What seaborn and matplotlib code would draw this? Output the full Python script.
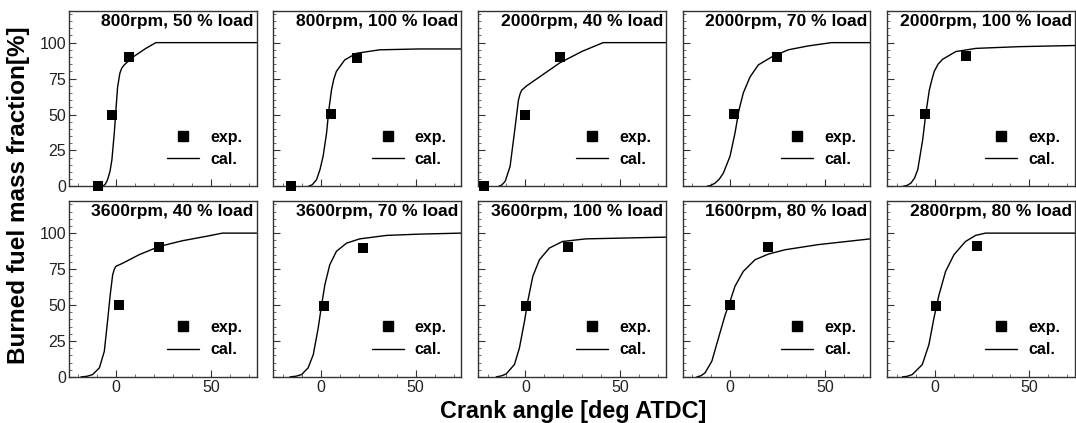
import numpy as np
import pandas as pd
import matplotlib
matplotlib.use("Agg")
import matplotlib.pyplot as plt
from matplotlib.ticker import MultipleLocator, FixedLocator
from matplotlib.lines import Line2D
import seaborn as sns

# ---------------- data ----------------
titles = ["800rpm, 50 % load", "800rpm, 100 % load", "2000rpm, 40 % load",
          "2000rpm, 70 % load", "2000rpm, 100 % load",
          "3600rpm, 40 % load", "3600rpm, 70 % load", "3600rpm, 100 % load",
          "1600rpm, 80 % load", "2800rpm, 80 % load"]

exp_x = [[-9.5, -2.3, 6.8], [-16.0, 5.3, 18.9], [-21.8, -0.2, 18.2],
         [2.3, 25.0], [-4.9, 16.5],
         [1.2, 22.3], [1.6, 22.3], [0.4, 22.6], [0.2, 20.2], [0.5, 22.5]]
exp_y = [[0, 50, 90], [0, 50.5, 89], [0, 49.8, 89.8],
         [50.2, 90], [50.2, 90.7],
         [49.8, 90.3], [49.5, 89.6], [49.5, 90.3], [50.2, 90], [49.5, 90.7]]

cal_x = [
    [-7.2, -5.8, -4.6, -3.3, -2.3, -1.05, -0.2, 0.7, 1.9, 2.9, 4.2, 8.6, 15.6, 20.9, 74],
    [-6.7, -4.5, -2.3, -0.5, 1.2, 3.0, 4.2, 5.6, 6.8, 8.2, 12.6, 18.8, 31, 52, 74],
    [-14.2, -12.5, -10.7, -8.1, -6.3, -5.4, -3.7, -2.8, -1.9, 0.7, 10, 18.2, 30, 41, 74],
    [-12.3, -10.0, -7.9, -5.7, -3.5, 0, 2.6, 4.7, 7, 10.5, 14.9, 21.9, 30.7, 41.2, 53.5, 74],
    [-16.8, -14.5, -12.5, -10.6, -8.9, -6.3, -4.6, -2.8, -1.4, -0.2, 1.8, 4.2, 11.2, 21.8, 44.6, 74],
    [-18.6, -15.5, -12.5, -8.9, -6.3, -4.6, -3.2, -1.9, -1.0, -0.2, 3.3, 12.1, 22.6, 34.9, 47.2, 56, 74],
    [-16.3, -13.0, -10.2, -6.7, -4, -1.4, 0.4, 2.1, 4.7, 8.2, 13.5, 20.5, 34.6, 52, 74],
    [-15.4, -12.8, -10.2, -5.8, -3.2, -0.5, 1.2, 3.9, 7.4, 12.6, 19.6, 31.9, 49.5, 74],
    [-17.5, -15.3, -13.2, -9.6, -6.1, -2.6, 0, 2.6, 7, 13.2, 20.2, 28.9, 46.5, 74],
    [-17, -14.5, -11.8, -6.5, -3, -0.35, 2.3, 5.8, 10.2, 16.3, 21.6, 26.8, 74],
]
cal_y = [
    [0, 1.5, 4.6, 10.5, 18.5, 37, 53, 69, 78.7, 82.3, 84.5, 89.8, 96, 100, 100],
    [0, 1.2, 4.6, 11.5, 21, 37, 53, 67, 74.5, 80, 88, 92.6, 95, 95.6, 95.6],
    [0, 1.0, 3.5, 13.9, 32.4, 41.7, 60, 64.5, 67, 70, 78.5, 86, 94, 100, 100],
    [0, 0.8, 2.3, 5.0, 9.3, 21, 37, 53, 65, 76, 84.5, 90, 95, 97.7, 100, 100],
    [0, 0.7, 2.3, 5.8, 11.6, 32.4, 51, 67, 74.5, 80, 85, 88.4, 93.8, 96, 97.2, 98],
    [0, 0.4, 1.6, 6.3, 17.8, 38.7, 57, 71, 75, 76.9, 79, 85, 90.7, 94.7, 97.7, 100, 100],
    [0, 0.5, 1.6, 6.3, 15.5, 34, 50, 64, 78, 87.3, 93, 96, 98.4, 99.3, 100],
    [0, 0.7, 2, 8.6, 20, 38.7, 52.5, 70, 81.5, 89.6, 94.2, 96, 96.5, 97.2],
    [0, 0.8, 2.8, 10.9, 27, 43, 52.5, 63, 73.4, 81.5, 85.4, 88.4, 92, 96],
    [0, 0.4, 1.6, 8.6, 22.5, 41, 57, 73.4, 85, 94.2, 98.4, 100, 100],
]

x_ticks = [0, 50]
y_ticks = [0, 25, 50, 75, 100]

# ---------------- style ----------------
sns.set_theme(style="ticks")
plt.rcParams["font.family"] = ["Liberation Sans", "DejaVu Sans"]
plt.rcParams["axes.edgecolor"] = "#333333"
plt.rcParams["axes.linewidth"] = 1.0
plt.rcParams["text.color"] = "black"

fig, axes = plt.subplots(2, 5, figsize=(10.76, 4.23), dpi=100,
                         sharex=True, sharey=True)
fig.subplots_adjust(left=0.064, right=0.999, top=0.974, bottom=0.109,
                    wspace=0.09, hspace=0.086)

for i, ax in enumerate(axes.flat):
    cal = pd.DataFrame({"x": cal_x[i], "y": cal_y[i]})
    ex = pd.DataFrame({"x": exp_x[i], "y": exp_y[i]})
    sns.lineplot(data=cal, x="x", y="y", ax=ax, color="black", lw=1.0,
                 sort=False, estimator=None)
    sns.scatterplot(data=ex, x="x", y="y", ax=ax, color="black", marker="s",
                    s=42, edgecolor="black", linewidth=0, clip_on=False,
                    zorder=5)
    ax.set_xlim(-25, 74)
    ax.set_ylim(0, 122)
    ax.xaxis.set_major_locator(FixedLocator(x_ticks))
    ax.xaxis.set_minor_locator(MultipleLocator(10))
    ax.yaxis.set_major_locator(FixedLocator(y_ticks))
    ax.yaxis.set_minor_locator(MultipleLocator(5))
    ax.tick_params(which="major", direction="in", length=5, width=0.8,
                   color="#333333", labelsize=11.5, labelcolor="#222222",
                   pad=2)
    ax.tick_params(which="minor", direction="in", length=2.5, width=0.6,
                   color="#555555")
    ax.set_xlabel("")
    ax.set_ylabel("")
    ax.text(0.985, 0.985, titles[i], transform=ax.transAxes, ha="right",
            va="top", fontsize=12.6, fontweight="bold", color="black")
    h_exp = Line2D([], [], ls="none", marker="s", color="black", ms=6.5)
    h_cal = Line2D([], [], color="black", lw=1.0)
    ax.legend([h_exp, h_cal], ["exp.", "cal."], loc="lower right",
              bbox_to_anchor=(1.0, 0.03), frameon=False,
              handlelength=2.0, handletextpad=0.7, labelspacing=0.45,
              prop={"weight": "bold", "size": 11.5})

fig.text(0.533, 0.028, "Crank angle [deg ATDC]", ha="center", va="center",
         fontsize=16.8, fontweight="bold", color="black")
fig.text(0.017, 0.539, "Burned fuel mass fraction[%]", ha="center",
         va="center", rotation=90, fontsize=17.5, fontweight="bold",
         color="black")

fig.savefig("out.png", dpi=100)
